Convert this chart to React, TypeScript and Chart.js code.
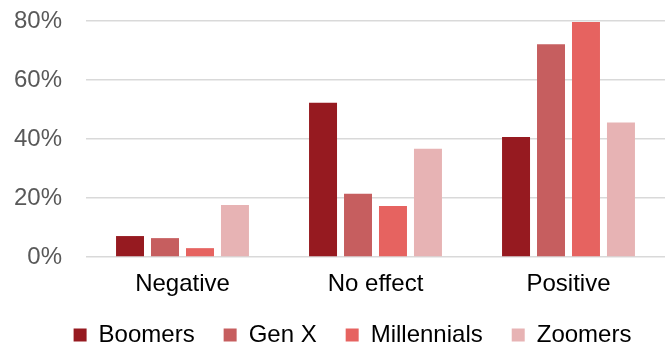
import React, { useEffect, useRef } from "react";
import { Chart, registerables } from "chart.js";

Chart.register(...registerables);

const categories = ["Negative", "No effect", "Positive"];
const seriesNames = ["Boomers", "Gen X", "Millennials", "Zoomers"];
const boomers = [7.1, 52.3, 40.7];
const genX = [6.4, 21.4, 72.1];
const millennials = [3.0, 17.3, 79.7];
const zoomers = [17.6, 36.7, 45.6];
const yTicks = [0, 20, 40, 60, 80];

const colors = ["#961a20", "#c65e5f", "#e66360", "#e7b3b4"];
const FONT = "'Liberation Sans', Arial, sans-serif";

const legendTweak = {
  id: "legendTweak",
  beforeInit(chart: any) {
    const lg = chart.legend;
    if (!lg) return;
    const fit = lg.fit.bind(lg);
    lg.fit = function () {
      fit();
      this.height = 51;
    };
    const draw = lg.draw.bind(lg);
    lg.draw = function () {
      const ctx = chart.ctx;
      ctx.save();
      ctx.translate(20, 0);
      draw();
      ctx.restore();
    };
  },
};

export default function App() {
  const ref = useRef<HTMLCanvasElement | null>(null);
  useEffect(() => {
    document.body.style.margin = "0";
    const ctx = ref.current!;
    const values = [boomers, genX, millennials, zoomers];
    const chart = new Chart(ctx, {
      type: "bar",
      data: {
        labels: categories,
        datasets: seriesNames.map((name, i) => ({
          label: name,
          data: values[i],
          backgroundColor: colors[i],
          borderWidth: 0,
          categoryPercentage: 0.725,
          barPercentage: 0.8,
        })),
      },
      plugins: [legendTweak],
      options: {
        animation: false,
        responsive: false,
        maintainAspectRatio: false,
        layout: { padding: { left: 0, right: 1, top: 21, bottom: 0 } },
        plugins: {
          tooltip: { enabled: false },
          legend: {
            position: "bottom",
            labels: {
              boxWidth: 13,
              boxHeight: 13,
              padding: 29,
              color: "#000",
              font: { family: FONT, size: 24 },
            },
          },
        },
        scales: {
          x: {
            afterFit: (axis: any) => {
              axis.height = 37;
              axis.paddingLeft = 0;
              axis.paddingRight = 0;
              axis._computeLabelArea = () => undefined;
            },
            grid: { display: false, drawTicks: false },
            border: { display: false },
            ticks: { color: "#000", padding: 13, font: { family: FONT, size: 24 } },
          },
          y: {
            min: 0,
            max: 80,
            afterBuildTicks: (axis: any) => {
              axis.ticks = yTicks.map((v) => ({ value: v }));
            },
            afterFit: (axis: any) => {
              axis.width = 86;
              axis.paddingTop = 0;
              axis.paddingBottom = 0;
              axis._computeLabelArea = () => undefined;
            },
            grid: { color: "#d9d9d9", lineWidth: 1.5, drawTicks: false },
            border: { display: false },
            ticks: {
              color: "#595959",
              padding: 24,
              font: { family: FONT, size: 24 },
              callback: (v: any) => v + "%",
            },
          },
        },
      },
    });
    return () => chart.destroy();
  }, []);
  return (
    <div style={{ width: 666, height: 345 }}>
      <canvas ref={ref} width={666} height={345} />
    </div>
  );
}
